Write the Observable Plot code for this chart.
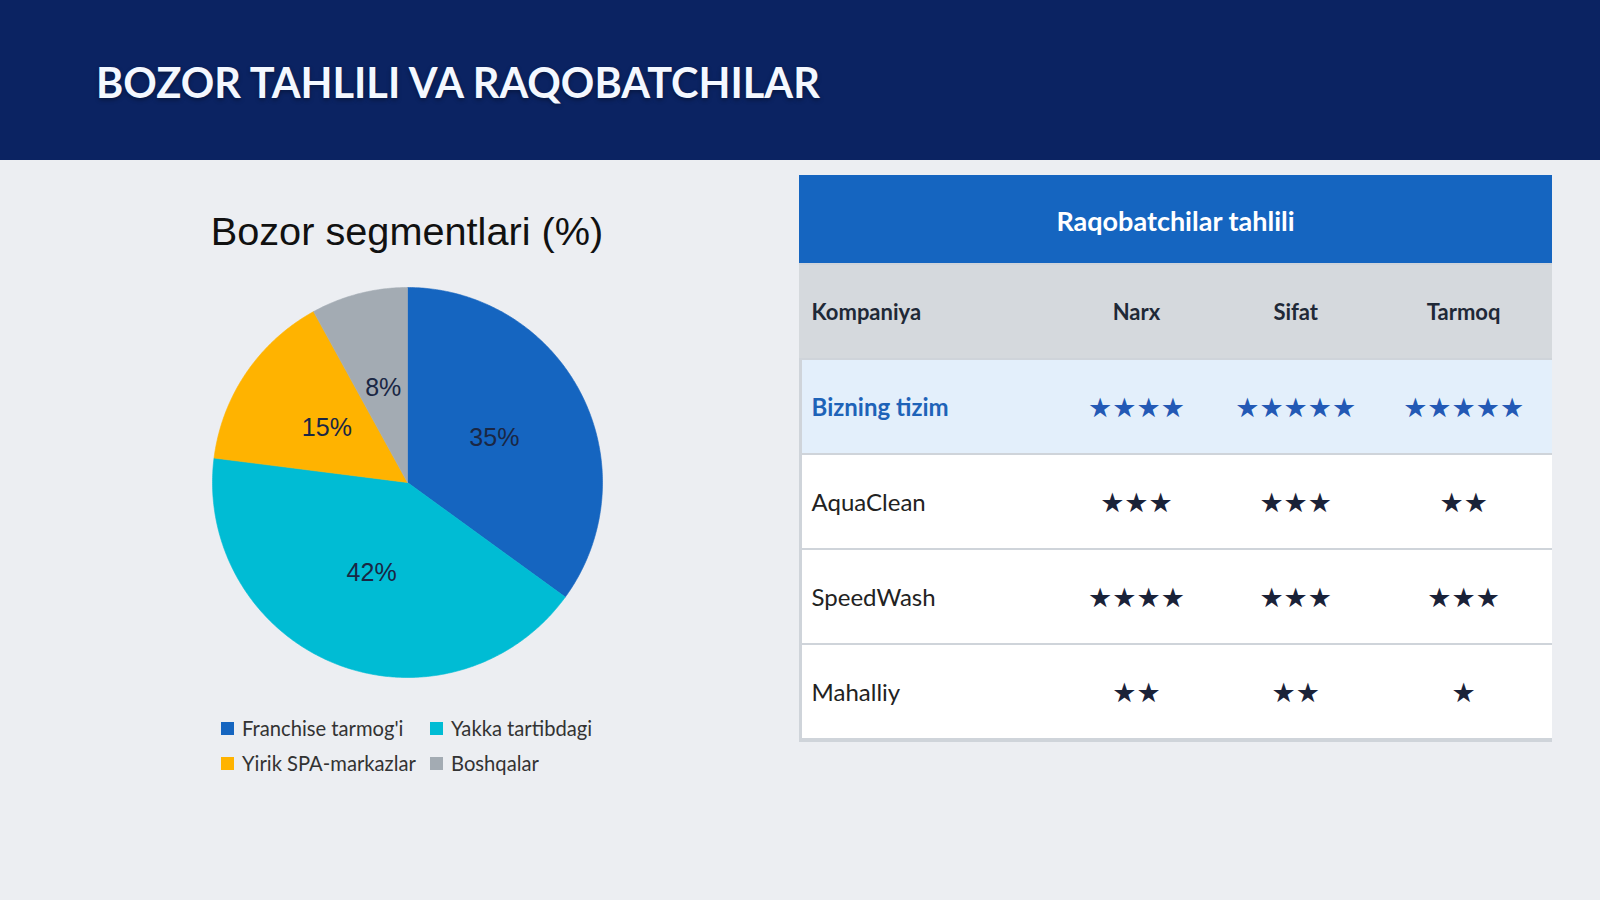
<!DOCTYPE html>
<html>
<head>
<meta charset="utf-8">
<script src="https://cdn.jsdelivr.net/npm/d3@7"></script>
<script src="https://cdn.jsdelivr.net/npm/@observablehq/plot@0.6"></script>
<style>
  html, body { margin: 0; padding: 0; }
  body { width: 1600px; height: 900px; background: #eceef2; position: relative; overflow: hidden; font-family: Lato, "Noto Sans", sans-serif; }
  #header { position: absolute; left: 0; top: 0; width: 1600px; height: 160px; background: #0b2362; }
  #header h1 { position: absolute; left: 96px; top: 62px; margin: 0; font: 700 41.5px/41px Lato, sans-serif; color: #f4f8ff; text-shadow: 0 2px 4px rgba(0,0,0,0.35); white-space: nowrap; }
  #pieTitle { position: absolute; left: 157px; width: 500px; top: 211px; text-align: center; font: 39.7px/40px "Liberation Sans", Arial, sans-serif; color: #111; }
  #pie { position: absolute; left: 212px; top: 287px; }
  #legend { position: absolute; left: 221px; top: 718px; font: 20.2px/20px Lato, sans-serif; color: #333; }
  .lg { position: absolute; display: flex; align-items: center; white-space: nowrap; }
  .sw { width: 13px; height: 13px; margin-right: 8px; }
  #tblTitle { position: absolute; left: 799px; top: 175px; width: 753px; height: 88px; background: #1565c0; color: #fff; font: 700 27px Lato, sans-serif; display: flex; align-items: center; justify-content: center; padding-top: 2px; box-sizing: border-box; }
  #tbl { position: absolute; left: 799px; top: 263px; }
</style>
</head>
<body>
<div id="header"><h1>BOZOR TAHLILI VA RAQOBATCHILAR</h1></div>
<div id="pieTitle">Bozor segmentlari (%)</div>
<div id="pie"></div>
<div id="legend"></div>
<div id="tblTitle">Raqobatchilar tahlili</div>
<div id="tbl"></div>
<script>
// ---- Data ----
const segments = ["Franchise tarmog'i", "Yakka tartibdagi", "Yirik SPA-markazlar", "Boshqalar"];
const shares = [35, 42, 15, 8];
const segmentColors = ["#1565c0", "#00bcd4", "#ffb300", "#a3abb3"];

const tableTitle = "Raqobatchilar tahlili";
const columns = ["Kompaniya", "Narx", "Sifat", "Tarmoq"];
const companies = ["Bizning tizim", "AquaClean", "SpeedWash", "Mahalliy"];
const narx = [4, 3, 4, 2];
const sifat = [5, 3, 3, 2];
const tarmoq = [5, 2, 3, 1];

// ---- Pie ----
const R = 195;
const arcs = d3.pie().sort(null).value(d => d)(shares);
const piePts = [];
arcs.forEach((a, i) => {
  piePts.push({seg: segments[i], x: 0, y: 0});
  const n = Math.max(2, Math.ceil((a.endAngle - a.startAngle) / 0.01));
  for (let k = 0; k <= n; k++) {
    const t = a.startAngle + (a.endAngle - a.startAngle) * k / n;
    piePts.push({seg: segments[i], x: Math.sin(t), y: Math.cos(t)});
  }
  piePts.push({seg: segments[i], x: 0, y: 0});
});
const pieLabels = arcs.map((a, i) => {
  const m = (a.startAngle + a.endAngle) / 2;
  return {x: 0.5 * Math.sin(m), y: 0.5 * Math.cos(m), text: shares[i] + "%"};
});

const pie = Plot.plot({
  width: 2 * R, height: 2 * R,
  margin: 0,
  style: {background: "transparent", overflow: "visible"},
  x: {domain: [-1, 1], axis: null},
  y: {domain: [-1, 1], axis: null},
  color: {domain: segments, range: segmentColors},
  marks: [
    Plot.line(piePts, {x: "x", y: "y", z: "seg", fill: "seg", stroke: "seg", strokeWidth: 0.6, curve: "linear"}),
    Plot.text(pieLabels, {x: "x", y: "y", text: "text", fontSize: 25, fill: "#1a2744", fontFamily: "'Liberation Sans', Arial, sans-serif"})
  ]
});
document.getElementById("pie").appendChild(pie);

// ---- Legend ----
const legendPos = [[0, 0], [209, 0], [0, 35], [209, 35]];
const legend = document.getElementById("legend");
segments.forEach((s, i) => {
  const el = document.createElement("div");
  el.className = "lg";
  el.style.left = legendPos[i][0] + "px";
  el.style.top = legendPos[i][1] + "px";
  el.innerHTML = `<span class="sw" style="background:${segmentColors[i]}"></span><span>${s}</span>`;
  legend.appendChild(el);
});

// ---- Table ----
const rows = companies.map((c, i) => ({company: c, Narx: narx[i], Sifat: sifat[i], Tarmoq: tarmoq[i]}));
const colX = {Kompaniya: 0.016, Narx: 0.4475, Sifat: 0.659, Tarmoq: 0.882};
const star = n => "\u2605".repeat(n);
const yDomain = ["header", ...companies];
const TW = 753, TH = 479;

const tbl = Plot.plot({
  width: TW, height: TH,
  margin: 0,
  style: {background: "#cfd4da", overflow: "visible"},
  x: {domain: [0, 1], axis: null},
  y: {domain: yDomain, axis: null, padding: 0},
  marks: [
    Plot.barX(["header"], {x1: 0, x2: 1, y: d => d, fill: "#d5d9dd", insetBottom: 2}),
    Plot.barX(companies.slice(0, 1), {x1: 0, x2: 1, y: d => d, fill: "#e3effb", insetBottom: 2, insetLeft: 3}),
    Plot.barX(companies.slice(1), {x1: 0, x2: 1, y: d => d, fill: "#ffffff", insetBottom: 2, insetLeft: 3}),
    Plot.text(columns.slice(0, 1), {x: d => colX[d], y: () => "header", text: d => d, textAnchor: "start", fontSize: 22, fontWeight: 700, fill: "#1f2937"}),
    Plot.text(columns.slice(1), {x: d => colX[d], y: () => "header", text: d => d, textAnchor: "middle", fontSize: 22, fontWeight: 700, fill: "#1f2937"}),
    Plot.text(companies.slice(0, 1), {x: colX.Kompaniya, y: d => d, text: d => d, textAnchor: "start", fontSize: 24, fontWeight: 700, fill: "#1e63b8"}),
    Plot.text(companies.slice(1), {x: colX.Kompaniya, y: d => d, text: d => d, textAnchor: "start", fontSize: 24, fill: "#222"}),
    ...["Narx", "Sifat", "Tarmoq"].map(col => Plot.text(rows.slice(0, 1), {
      x: () => colX[col], y: "company", text: d => star(d[col]),
      fill: "#2359b5", fontSize: 27, fontFamily: "'DejaVu Sans', sans-serif"
    })),
    ...["Narx", "Sifat", "Tarmoq"].map(col => Plot.text(rows.slice(1), {
      x: () => colX[col], y: "company", text: d => star(d[col]),
      fill: "#1a2238", fontSize: 27, fontFamily: "'DejaVu Sans', sans-serif"
    }))
  ]
});
tbl.style.fontFamily = "Lato, sans-serif";
document.getElementById("tbl").appendChild(tbl);
</script>
</body>
</html>
